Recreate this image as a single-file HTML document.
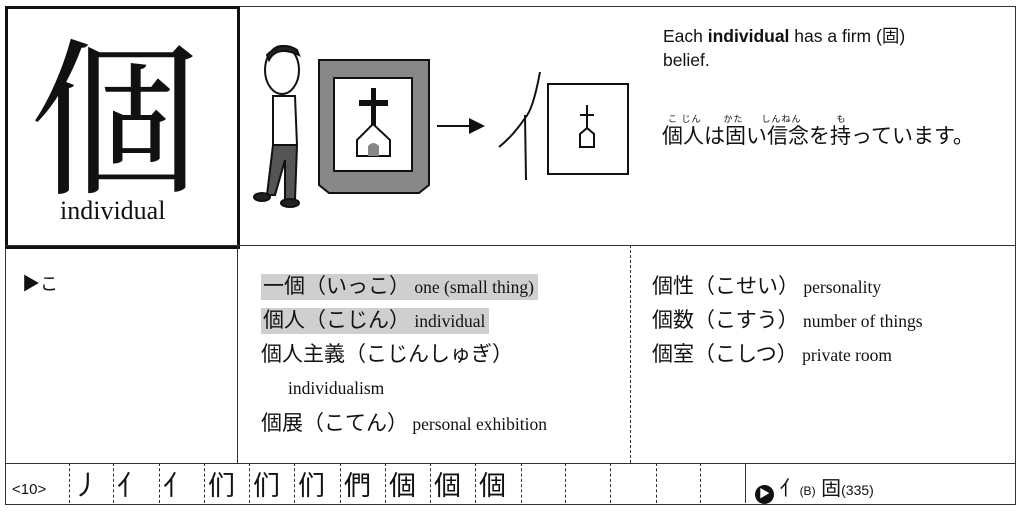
<!DOCTYPE html>
<html><head><meta charset="utf-8"><style>
body{margin:0;width:1023px;height:520px;background:#fff;position:relative;overflow:hidden;font-family:"Liberation Serif","Noto Serif CJK SC",serif;color:#111}
.a{position:absolute}
.j{font-family:"Liberation Sans","Noto Sans CJK JP",sans-serif}
.s{font-family:"Liberation Serif","Noto Serif CJK SC",serif}
.hl{background:#cfcfcf}
.cell{position:absolute;top:463px;height:40px;border-left:1.5px dashed #333;font-family:"Noto Sans CJK JP",sans-serif;font-size:27px;line-height:42px;padding-left:3px}
.v{font-size:21px}
</style></head><body>
<div class="a" style="left:5px;top:6px;width:1009px;height:497px;border:1.5px solid #333"></div>
<div class="a" style="left:5px;top:6px;width:229px;height:237px;border:3px solid #111"></div>
<div class="a s" style="left:30px;top:8px;font-size:170px;line-height:200px;font-family:'Noto Serif CJK SC',serif">個</div>
<div class="a s" style="left:60px;top:196px;font-size:26px">individual</div>
<div class="a" style="left:5px;top:245px;width:1010px;border-top:1.5px solid #333"></div>
<div class="a" style="left:237px;top:245px;height:218px;border-left:1.5px solid #333"></div>
<div class="a" style="left:630px;top:245px;height:218px;border-left:1.5px dashed #333"></div>
<div class="a" style="left:5px;top:463px;width:1010px;border-top:1.5px solid #333"></div>
<svg class="a" style="left:237px;top:0" width="400" height="240">
<g stroke="#111" stroke-width="2" fill="#fff">
<ellipse cx="45" cy="70" rx="17" ry="24"/>
<path d="M32 60 Q40 45 62 55 L60 50 Q45 40 30 55Z" fill="#222"/>
<path d="M36 96 L58 96 L60 145 L36 145Z"/>
<path d="M36 145 L60 145 L58 200 L48 200 L48 160 L38 195 L30 195Z" fill="#555"/>
<ellipse cx="25" cy="197" rx="8" ry="4" fill="#222"/>
<ellipse cx="53" cy="203" rx="9" ry="4" fill="#222"/>
<path d="M82 60 L192 60 L192 185 L182 193 L92 193 L82 185Z" fill="#888"/>
<rect x="97" y="78" width="78" height="93" fill="#fff"/>
</g>
<g fill="#111"><rect x="134" y="88" width="5" height="40"/><rect x="122" y="100" width="29" height="6"/></g>
<path d="M120 156 L120 140 L136 124 L153 140 L153 156Z" fill="#fff" stroke="#111" stroke-width="2"/>
<path d="M131 156 L131 146 Q136 140 142 146 L142 156Z" fill="#888"/>
<line x1="200" y1="126" x2="235" y2="126" stroke="#111" stroke-width="2"/>
<path d="M248 126 L232 118 L232 134Z" fill="#111"/>
<path d="M303 72 Q296 110 288 118 Q276 136 262 147" fill="none" stroke="#111" stroke-width="2"/>
<line x1="288" y1="115" x2="289" y2="180" stroke="#111" stroke-width="2"/>
<rect x="311" y="84" width="80" height="90" fill="none" stroke="#111" stroke-width="2"/>
<line x1="350" y1="105" x2="350" y2="128" stroke="#111" stroke-width="2"/>
<line x1="343" y1="115" x2="357" y2="115" stroke="#111" stroke-width="2"/>
<path d="M343 147 L343 134 L350 128 L357 134 L357 147Z" fill="none" stroke="#111" stroke-width="2"/>
</svg>
<div class="a j" style="left:663px;top:24px;font-size:17.5px;line-height:24px;width:340px">Each <b>individual</b> has a firm (固)<br>belief.</div>
<div class="a j" style="left:668px;top:112px;font-size:9px;letter-spacing:1px">こ じん<span style="margin-left:22px">かた</span><span style="margin-left:18px">しんねん</span><span style="margin-left:35px">も</span></div>
<div class="a j" style="left:662px;top:122px;font-size:21px;line-height:30px">個人は固い信念を持っています。</div>
<div class="a j" style="left:22px;top:270px;font-size:18px">▶こ</div>
<div class="a" style="left:261px;top:270px;font-size:17.5px;line-height:34px">
<div><span class="hl" style="padding:3px 4px 3px 2px"><span class="j v">一個（いっこ）</span> one (small thing)</span></div>
<div><span class="hl" style="padding:3px 4px 3px 2px"><span class="j v">個人（こじん）</span> individual</span></div>
<div><span class="j v">個人主義（こじんしゅぎ）</span></div>
<div style="padding-left:27px;line-height:32px">individualism</div>
<div style="line-height:40px"><span class="j v">個展（こてん）</span> personal exhibition</div>
</div>
<div class="a" style="left:652px;top:270px;font-size:17.5px;line-height:34px">
<div><span class="j v">個性（こせい）</span> personality</div>
<div><span class="j v">個数（こすう）</span> number of things</div>
<div><span class="j v">個室（こしつ）</span> private room</div>
</div>
<div class="a j" style="left:12px;top:481px;font-size:15px">&lt;10&gt;</div>
<div class="cell" style="left:69px">丿</div>
<div class="cell" style="left:113px">亻</div>
<div class="cell" style="left:159px">亻</div>
<div class="cell" style="left:204px">们</div>
<div class="cell" style="left:249px">们</div>
<div class="cell" style="left:294px">们</div>
<div class="cell" style="left:340px">們</div>
<div class="cell" style="left:385px">個</div>
<div class="cell" style="left:430px">個</div>
<div class="cell" style="left:475px">個</div>
<div class="cell" style="left:521px"></div>
<div class="cell" style="left:565px"></div>
<div class="cell" style="left:610px"></div>
<div class="cell" style="left:656px"></div>
<div class="cell" style="left:700px"></div>
<div class="a" style="left:745px;top:463px;height:40px;border-left:1.5px solid #333"></div>
<div class="a j" style="left:755px;top:472px;font-size:20px;white-space:nowrap"><span style="display:inline-block;width:19px;height:19px;border-radius:50%;background:#111;color:#fff;font-size:11px;text-align:center;line-height:19px;vertical-align:-2px">▶</span> 亻<span style="font-size:12px">(B)</span> 固<span style="font-size:14px">(335)</span></div>
</body></html>
